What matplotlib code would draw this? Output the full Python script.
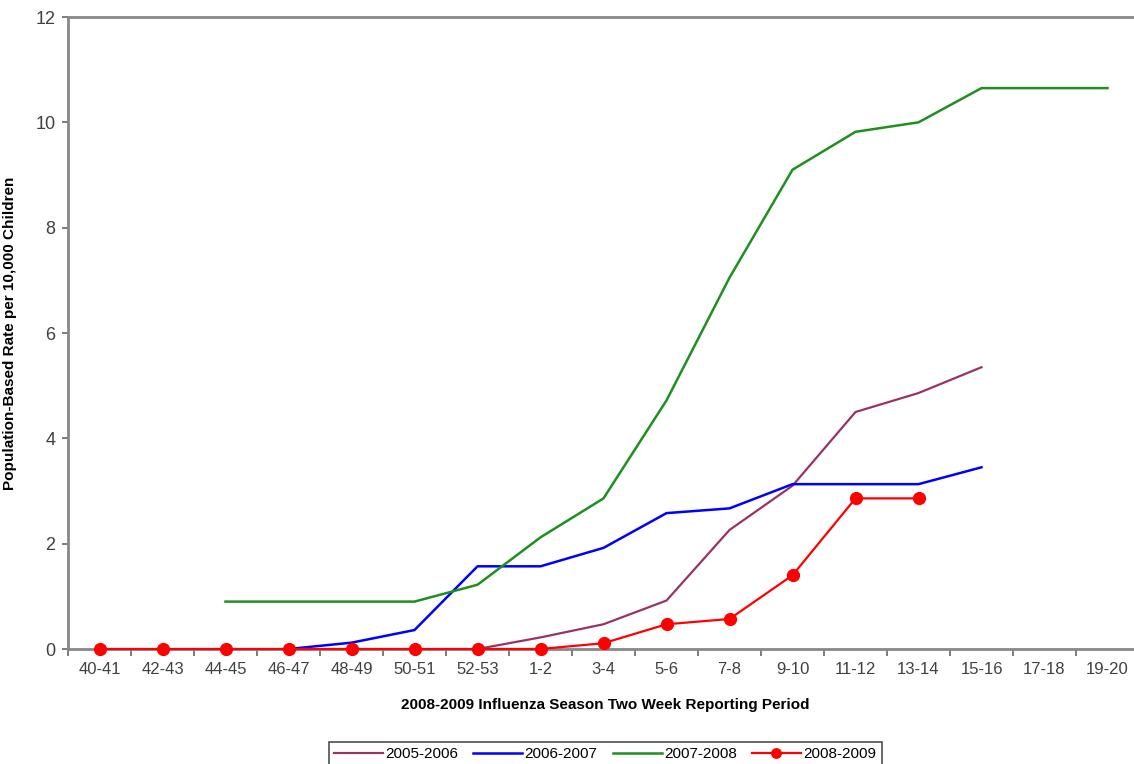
import numpy as np
import matplotlib.pyplot as plt

plt.rcParams['font.family'] = ['Liberation Sans', 'DejaVu Sans']

# two week reporting periods
periods = ['40-41', '42-43', '44-45', '46-47', '48-49', '50-51', '52-53', '1-2',
           '3-4', '5-6', '7-8', '9-10', '11-12', '13-14', '15-16', '17-18', '19-20']
nan = np.nan
s0506 = [nan, nan, nan, nan, nan, nan, 0.0, 0.22, 0.47, 0.92, 2.26, 3.1, 4.5, 4.86, 5.35, nan, nan]
s0607 = [nan, nan, nan, 0.0, 0.12, 0.36, 1.57, 1.57, 1.92, 2.58, 2.67, 3.13, 3.13, 3.13, 3.45, nan, nan]
s0708 = [nan, nan, 0.9, 0.9, 0.9, 0.9, 1.22, 2.12, 2.86, 4.72, 7.05, 9.1, 9.82, 10.0, 10.65, 10.65, 10.65]
s0809 = [0.0, 0.0, 0.0, 0.0, 0.0, 0.0, 0.0, 0.0, 0.11, 0.47, 0.57, 1.40, 2.86, 2.86, nan, nan, nan]

W, H = 1134, 764
fig = plt.figure(figsize=(W / 100, H / 100), dpi=100)
ax = fig.add_axes([68 / W, 1 - 649 / H, (1139 - 68) / W, (649 - 17) / H])

x = np.arange(len(periods))
ax.plot(x, s0506, color='#993366', lw=1.6, label='2005-2006')
ax.plot(x, s0607, color='#0000ff', lw=1.8, label='2006-2007')
ax.plot(x, s0708, color='#1f8f1f', lw=1.8, label='2007-2008')
ax.plot(x, s0809, color='#ff0000', lw=1.6, marker='o', markersize=8.5,
        label='2008-2009', clip_on=False, zorder=5)

ax.set_xlim(-0.5, len(periods) - 0.5)
ax.set_ylim(0, 12)
ax.set_yticks(np.arange(0, 13, 2))

# excel style: tick marks between categories, labels at centres
ax.set_xticks(np.arange(len(periods) + 1) - 0.5)
ax.set_xticklabels([])
ax.set_xticks(x, minor=True)
ax.set_xticklabels(periods, minor=True)
ax.tick_params(axis='x', which='major', length=5, width=1.2, color='#666666', direction='out')
ax.tick_params(axis='x', which='minor', length=0, pad=9, labelsize=12, labelcolor='#404040')
ax.tick_params(axis='y', length=4, width=1.2, color='#666666', pad=5, labelsize=13, labelcolor='#404040')

for side in ['left', 'bottom', 'top']:
    ax.spines[side].set_color('#888888')
    ax.spines[side].set_linewidth(2)
ax.spines['right'].set_visible(False)

ax.set_xlabel('2008-2009 Influenza Season Two Week Reporting Period',
              fontsize=11, fontweight='bold')
ax.set_ylabel('Population-Based Rate per 10,000 Children',
              fontsize=11, fontweight='bold')
ax.xaxis.set_label_coords((605 - 68) / (1139 - 68), -0.078)
ax.yaxis.set_label_coords((17 - 68) / (1139 - 68), 0.5)

leg = fig.legend(loc='upper center', bbox_to_anchor=(605 / W, 1 - 734 / H), ncol=4,
                 fontsize=11, frameon=True, fancybox=False, edgecolor='#222222',
                 handlelength=3.2, handletextpad=0.15, columnspacing=1.0,
                 borderpad=0.35, markerscale=0.8)
leg.get_frame().set_linewidth(1.2)

fig.savefig('out.png', dpi=100)
